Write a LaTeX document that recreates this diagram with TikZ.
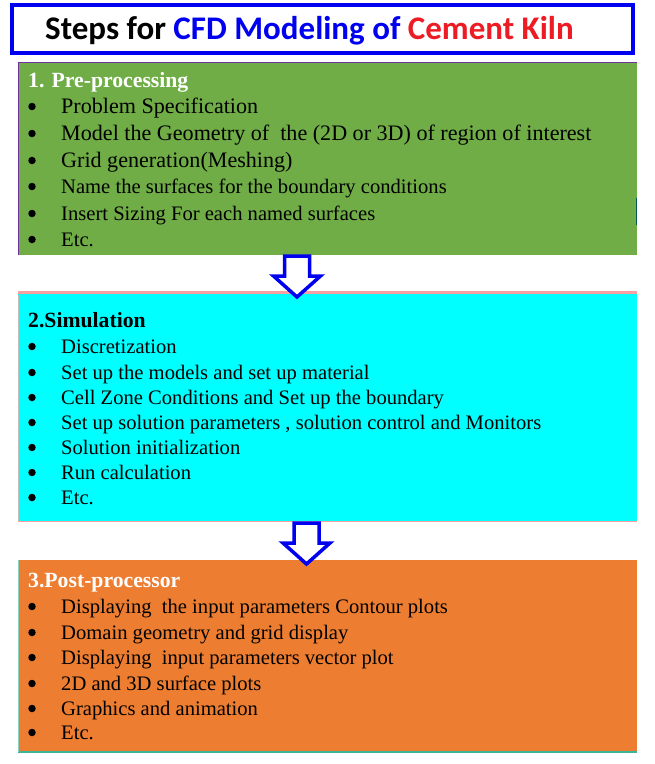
\documentclass[tikz,border=0pt]{standalone}
\usepackage{fontspec}
\setmainfont{Liberation Serif}
\newfontfamily\titlefont{Carlito}
\usetikzlibrary{positioning}
\usepackage{xcolor}
\definecolor{titleblue}{RGB}{0,0,240}
\definecolor{kilnred}{RGB}{237,28,36}
\definecolor{pregreen}{RGB}{112,173,71}
\definecolor{simcyan}{RGB}{0,255,255}
\definecolor{postorange}{RGB}{237,125,49}
\definecolor{edgepurple}{RGB}{112,48,160}
\definecolor{edgepink}{RGB}{250,160,160}
\definecolor{edgeteal}{RGB}{60,180,150}
\newcommand{\itemfont}{\fontsize{20.6}{24}\selectfont}
\newcommand{\bigitemfont}{\fontsize{22.1}{26}\selectfont}
\newcommand{\headfont}{\fontsize{21.7}{25}\selectfont\bfseries}
\newcommand{\stepitem}[3]{% name, baseline y, text
  \node[circle,fill=black,inner sep=0,minimum size=7.5pt] (#1-b) at (32,#2-6.5) {};
  \node[anchor=base west,inner sep=0,font=\itemfont] (#1) at (61,#2) {#3};
}
\newcommand{\blockarrow}[2]{% x y: top middle of the shaft
  \draw[titleblue,line width=3.5pt,fill=white,line join=miter]
    (#1-12.5,#2) -- (#1+12.5,#2) -- (#1+12.5,#2+20) -- (#1+23.5,#2+20)
    -- (#1,#2+41) -- (#1-23.5,#2+20) -- (#1-12.5,#2+20) -- cycle;
}

\begin{document}
\begin{tikzpicture}[x=1pt,y=-1pt]
  \useasboundingbox (0,0) rectangle (655,764);
  % title
  \draw[titleblue,line width=4pt,fill=white] (12,5) rectangle (633,53);
  \node[anchor=base west,inner sep=0,font=\titlefont\bfseries\fontsize{33}{38}\selectfont] (title) at (45,39)
    {Steps for \textcolor{titleblue}{CFD Modeling of} \textcolor{kilnred}{Cement Kiln}};
  % 1. pre-processing
  \fill[pregreen] (18,62) rectangle (637,255);
  \draw[edgepurple,line width=1pt] (18,255) -- (18,62.5) -- (637,62.5);
  \draw[teal!70!black,line width=1.2pt] (636.5,198) -- (636.5,225);
  \node[anchor=base west,inner sep=0,font=\headfont,text=white] (pre) at (28,87) {1. Pre-processing};
  \stepitem{pre1}{113}{\bigitemfont Problem Specification}
  \stepitem{pre2}{140}{\bigitemfont Model the Geometry of\ \ the (2D or 3D) of region of interest}
  \stepitem{pre3}{167}{\bigitemfont Grid generation(Meshing)}
  \stepitem{pre4}{193}{Name the surfaces for the boundary conditions}
  \stepitem{pre5}{220}{Insert Sizing For each named surfaces}
  \stepitem{pre6}{246}{Etc.}
  % 2. simulation
  \fill[simcyan] (18,293) rectangle (637,521);
  \draw[edgepink,line width=3.5pt] (18,292.5) -- (637,292.5);
  \draw[edgepink,line width=1.5pt] (18,521.5) -- (637,521.5);
  \draw[black!25,line width=1pt] (18.5,295) -- (18.5,521);
  \node[anchor=base west,inner sep=0,font=\headfont] (sim) at (28,327) {2.Simulation};
  \stepitem{sim1}{353}{Discretization}
  \stepitem{sim2}{379}{Set up the models and set up material}
  \stepitem{sim3}{404}{Cell Zone Conditions and Set up the boundary}
  \stepitem{sim4}{429}{Set up solution parameters , solution control and Monitors}
  \stepitem{sim5}{454}{Solution initialization}
  \stepitem{sim6}{479}{Run calculation}
  \stepitem{sim7}{504}{Etc.}
  % 3. post-processor
  \fill[postorange] (18,560) rectangle (637,752);
  \draw[edgeteal,line width=2pt] (18,752) -- (637,752);
  \draw[edgeteal!60,line width=1pt] (18.5,560) -- (18.5,752);
  \node[anchor=base west,inner sep=0,font=\headfont,text=white] (post) at (28,587) {3.Post-processor};
  \stepitem{post1}{613}{Displaying\ \ the input parameters Contour plots}
  \stepitem{post2}{639}{Domain geometry and grid display}
  \stepitem{post3}{664}{Displaying\ \ input parameters vector plot}
  \stepitem{post4}{690}{2D and 3D surface plots}
  \stepitem{post5}{715}{Graphics and animation}
  \stepitem{post6}{739}{Etc.}
  % arrows between the steps
  \blockarrow{297}{256}
  \blockarrow{306.5}{523}
\end{tikzpicture}
\end{document}
